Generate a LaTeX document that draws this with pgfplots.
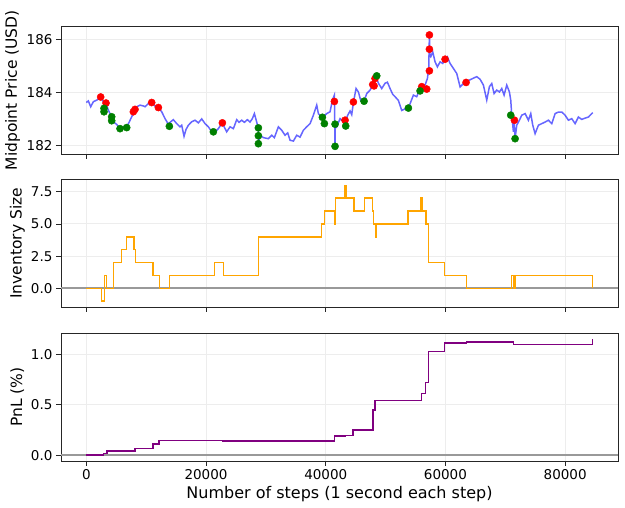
\documentclass[border=0pt]{standalone}
\usepackage{fontspec}
\setmainfont{DejaVu Sans}
\usepackage{pgfplots}
\pgfplotsset{compat=1.18}

\definecolor{mplgreen}{RGB}{0,128,0}
\definecolor{mplorange}{RGB}{255,165,0}
\definecolor{mplpurple}{RGB}{128,0,128}

\pgfplotsset{
  panel/.style={
    scale only axis, width=557pt, height=127.5pt,
    anchor=south west,
    xmin=-4230, xmax=88830,
    xtick={0,20000,40000,60000,80000},
    scaled x ticks=false,
    xticklabel style={/pgf/number format/.cd, fixed, 1000 sep={}},
    tick align=outside, tick pos=left,
    major tick length=5pt,
    every tick/.style={black!85, line width=0.8pt},
    axis line style={black!85, line width=0.9pt},
    grid=major, major grid style={black!7, line width=0.9pt},
    tick label style={font=\fontsize{13.5}{16}\selectfont},
    xlabel style={font=\fontsize{16}{19}\selectfont},
    /pgf/number format/assume math mode=true,
  },
  ylab/.style={every axis y label/.style={at={(axis description cs:#1,0.5)}, rotate=90, anchor=center,
    font=\fontsize{15.5}{18}\selectfont}},
  onedec/.style={yticklabel style={/pgf/number format/.cd, fixed, fixed zerofill, precision=1}},
}

\begin{document}
\begin{tikzpicture}
\useasboundingbox (0,0) rectangle (625pt,508pt);

% ---- price
\begin{axis}[panel, at={(61pt,354pt)},
  ymin=181.67, ymax=186.5, ytick={182,184,186},
  xticklabels={},
  ylab=-0.0871, ylabel={Midpoint Price (USD)}]
\addplot[red, only marks, mark=*, mark size=3.6pt, mark options={draw=red, fill=red}] coordinates {
(2400,183.83) (3292,183.60) (7859,183.27) (8137,183.36) (10923,183.62) (12037,183.43)
(22731,182.85) (41446,183.66) (43229,182.95) (44621,183.64) (47852,184.30) (48074,184.25)
(48241,184.53) (56040,184.22) (56875,184.13) (57320,186.18) (57320,185.64) (57320,184.82)
(59939,185.26) (63448,184.38) (71524,182.95)};
\addplot[mplgreen, only marks, mark=*, mark size=3.6pt, mark options={draw=mplgreen, fill=mplgreen}] coordinates {
(2957,183.40) (2957,183.27) (4239,183.08) (4239,182.93) (5631,182.63) (6745,182.67)
(13875,182.72) (21227,182.51) (28747,182.66) (28747,182.36) (28747,182.06) (39442,183.06)
(39776,182.82) (41558,182.80) (41558,181.96) (43340,182.73) (46403,183.67) (48520,184.63)
(53812,183.41) (55761,184.06) (70911,183.14) (71636,182.25)};
\addplot[blue, opacity=0.6, line width=1.5pt, no marks] coordinates {
(0,183.62) (340,183.68) (730,183.46) (1175,183.65) (1732,183.71) (2400,183.81) (2846,183.65)
(3292,183.58) (3682,183.33) (4239,183.08) (4517,182.89) (5074,182.79) (5631,182.63)
(6188,182.70) (6745,182.70) (7191,182.89) (7580,183.08) (7970,183.27) (8416,183.46)
(8973,183.52) (9530,183.49) (9809,183.46) (10366,183.58) (10923,183.61) (11480,183.48)
(12037,183.43) (12594,183.27) (13151,183.01) (13708,182.80) (14097,182.89) (14543,182.97)
(15100,182.82) (15657,182.70) (15936,182.76) (16326,182.34) (16660,182.60) (17050,182.76)
(17607,182.89) (18164,182.95) (18721,182.85) (19278,183.00) (19835,182.82) (20392,182.70)
(20949,182.51) (21506,182.51) (22063,182.63) (22620,182.82) (22899,182.76) (23456,182.51)
(24013,182.70) (24570,182.63) (25127,182.97) (25516,182.87) (25962,182.95) (26408,182.87)
(26909,182.97) (27355,182.88) (27744,183.01) (28079,183.20) (28469,182.88) (28747,182.63)
(28760,182.06) (29026,182.38) (29583,182.29) (30418,182.25) (30975,182.38) (31421,182.29)
(32089,182.70) (32646,182.57) (33203,182.38) (33649,182.47) (34039,182.19) (34596,182.16)
(35153,182.38) (35710,182.31) (36267,182.57) (36824,182.70) (37381,182.82) (37938,183.14)
(38495,183.52) (38773,183.20) (39219,183.08) (39609,183.08) (40166,183.20) (40723,183.27)
(41112,183.71) (41446,183.90) (41540,181.96) (41600,182.75) (41837,182.70) (42394,183.01)
(42951,182.89) (43340,182.95) (43675,183.14) (44065,183.30) (44343,183.16) (44621,183.62)
(45067,184.15) (45457,184.02) (45846,183.70) (46180,183.62) (46403,183.67) (46849,183.96)
(47406,184.09) (47852,184.28) (48074,184.41) (48408,184.60) (48799,184.35) (49356,184.15)
(49913,184.35) (50302,184.39) (50748,184.15) (51194,183.93) (51584,183.84) (52141,183.70)
(52698,183.32) (53255,183.38) (53812,183.41) (54202,183.64) (54647,183.90) (55204,183.84)
(55650,184.09) (56040,184.22) (56597,184.28) (56987,184.53) (57209,184.91) (57320,186.18)
(57400,185.40) (57544,185.35) (57878,185.54) (58268,185.16) (58658,184.97) (59104,185.16)
(59549,185.10) (59939,185.25) (60329,185.35) (60774,185.10) (61331,184.91) (61888,184.72)
(62445,184.21) (63002,184.34) (63448,184.38) (64005,184.47) (64562,184.53) (65230,184.60)
(65787,184.50) (66344,184.28) (66901,183.71) (67347,184.22) (67737,184.34) (68127,183.96)
(68572,184.09) (69013,184.02) (69408,184.15) (69798,183.90) (70243,184.28) (70688,184.02)
(70911,183.71) (71078,183.14) (71357,182.51) (71469,182.95) (71636,182.25) (71915,182.76)
(72360,182.95) (72750,183.14) (73307,183.20) (73864,182.95) (74254,183.20) (74588,182.76)
(74978,182.44) (75535,182.76) (76092,182.82) (76649,182.88) (77206,182.95) (77763,182.82)
(78320,183.20) (78877,183.26) (79434,183.26) (79990,183.14) (80547,182.95) (81104,183.01)
(81661,182.82) (82218,183.07) (82775,182.98) (83332,183.03) (83889,183.07) (84613,183.24)};
\end{axis}

% ---- inventory
\begin{axis}[panel, at={(61pt,201pt)}, onedec,
  ymin=-1.45, ymax=8.45, ytick={0,2.5,5,7.5},
  xticklabels={},
  ylab=-0.0785, ylabel={Inventory Size}]
\addplot[gray!80, line width=2pt, no marks] coordinates {(-4230,0) (88830,0)};
\addplot[mplorange, line width=1.4pt, const plot, no marks] coordinates {
(0,0) (2580,-1) (3060,1) (3420,0) (4500,2) (5830,3) (6730,4) (7990,3) (8230,2) (11170,1)
(12190,0) (13930,1) (21380,2) (22880,1) (28770,4) (39340,5) (39760,6) (41440,5) (41620,7)
(43240,8) (43360,7) (44740,6) (46430,7) (47810,6) (47990,5) (48350,4) (48530,5) (53750,6)
(55860,7) (56100,6) (56760,5) (57180,2) (59880,1) (63480,0) (70990,1) (71350,0) (71650,1)
(84613,0)};
\end{axis}

% ---- pnl
\begin{axis}[panel, at={(61pt,47pt)}, onedec,
  ymin=-0.0575, ymax=1.2075, ytick={0,0.5,1},
  ylab=-0.0785, ylabel={PnL (\%)},
  xlabel={Number of steps (1 second each step)}]
\addplot[gray!80, line width=2pt, no marks] coordinates {(-4230,0) (88830,0)};
\addplot[mplpurple, line width=1.4pt, const plot, no marks] coordinates {
(0,0) (2880,0.015) (3480,0.04) (8110,0.066) (11110,0.11) (12130,0.148) (22820,0.142)
(41440,0.19) (43240,0.195) (44560,0.25) (47870,0.45) (48230,0.54) (56040,0.615)
(56700,0.72) (57180,1.03) (59820,1.115) (63480,1.125) (71350,1.10) (84613,1.15)};
\end{axis}
\end{tikzpicture}
\end{document}
